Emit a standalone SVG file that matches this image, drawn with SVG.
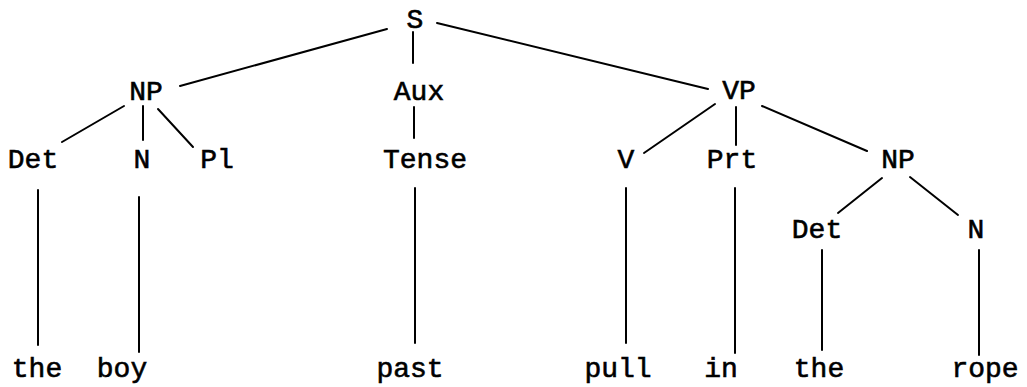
<svg xmlns="http://www.w3.org/2000/svg" width="1027" height="387" viewBox="0 0 1027 387">
<style>
text{font-family:"Liberation Mono","Courier New",monospace;font-size:28px;fill:#000;stroke:#000;stroke-width:0.6;text-anchor:middle}
line{stroke:#000;stroke-width:2;stroke-linecap:round}
</style>
<rect width="1027" height="387" fill="#fff"/>
<g id="connectors">
<line x1="387" y1="29" x2="180" y2="86"/>
<line x1="413" y1="32" x2="413" y2="63"/>
<line x1="437" y1="23" x2="708" y2="89"/>
<line x1="124" y1="106" x2="62" y2="142"/>
<line x1="143" y1="106" x2="143" y2="140"/>
<line x1="158" y1="109" x2="193" y2="147"/>
<line x1="414" y1="107" x2="414" y2="138"/>
<line x1="715" y1="104" x2="644" y2="153"/>
<line x1="736" y1="107" x2="736" y2="145"/>
<line x1="762" y1="106" x2="867" y2="151"/>
<line x1="882" y1="178" x2="838" y2="213"/>
<line x1="910" y1="177" x2="958" y2="215"/>
<line x1="38" y1="190" x2="38" y2="345"/>
<line x1="139" y1="197" x2="139" y2="352"/>
<line x1="415" y1="188" x2="415" y2="343"/>
<line x1="626" y1="188" x2="626" y2="343"/>
<line x1="735" y1="188" x2="735" y2="353"/>
<line x1="822" y1="250" x2="822" y2="350"/>
<line x1="979" y1="250" x2="979" y2="355"/>
</g>
<g id="S"><text x="415" y="28">S</text></g>
<g id="NP1"><text x="146" y="100">NP</text></g>
<g id="Aux"><text x="419" y="100">Aux</text></g>
<g id="VP"><text x="739" y="99">VP</text></g>
<g id="Det1"><text x="33" y="168">Det</text></g>
<g id="N1"><text x="142" y="168">N</text></g>
<g id="Pl"><text x="217" y="168">Pl</text></g>
<g id="Tense"><text x="425" y="168">Tense</text></g>
<g id="V"><text x="626" y="168">V</text></g>
<g id="Prt"><text x="732" y="168">Prt</text></g>
<g id="NP2"><text x="898" y="168">NP</text></g>
<g id="Det2"><text x="817" y="238">Det</text></g>
<g id="N2"><text x="976" y="238">N</text></g>
<g id="the1"><text x="37" y="377">the</text></g>
<g id="boy"><text x="122" y="377">boy</text></g>
<g id="past"><text x="410" y="377">past</text></g>
<g id="pull"><text x="618" y="377">pull</text></g>
<g id="in"><text x="721" y="377">in</text></g>
<g id="the2"><text x="819" y="377">the</text></g>
<g id="rope"><text x="985" y="377">rope</text></g>
</svg>
